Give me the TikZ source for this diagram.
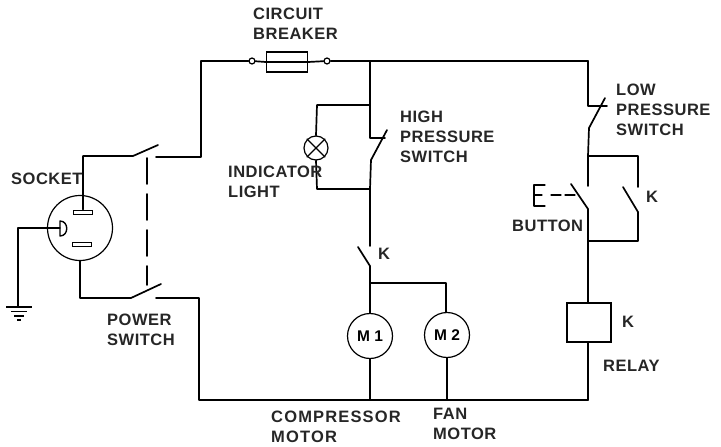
\documentclass[tikz,border=0pt]{standalone}
\usepackage{fontspec}
\setmainfont{Liberation Sans}
\tikzset{
 wire/.style={line width=1.7pt,line cap=round,line join=round},
 thin wire/.style={line width=1.3pt,line cap=round,line join=round},
 lbl/.style={inner sep=0pt,font=\fontsize{16.5}{19.7}\selectfont\bfseries\addfontfeatures{LetterSpace=3},align=left,anchor=north west,text=black!85},
 round part/.style={circle,draw,line width=1.2pt,inner sep=0pt,fill=white},
 term/.style={circle,draw,line width=1.2pt,minimum size=6pt,inner sep=0pt},
}
\begin{document}
\begin{tikzpicture}[x=1pt,y=-1pt]
\useasboundingbox (0,0) rectangle (721,447);
% named parts
\node[round part,minimum size=65pt] (sock) at (80,228) {};
\node[round part,minimum size=24pt] (lamp) at (316,148) {};
\node[round part,minimum size=45pt,font=\fontsize{15.5}{16}\selectfont\bfseries] (m1) at (370,336) {M 1};
\node[round part,minimum size=45pt,font=\fontsize{15.5}{16}\selectfont\bfseries] (m2) at (447,335) {M 2};
\node[draw,line width=1.7pt,minimum width=44pt,minimum height=39pt,inner sep=0pt] (relay) at (589,322.5) {};
\node[term] (t1) at (252,61) {};
\node[term] (t2) at (327,61) {};
\node[draw,line width=1.2pt,minimum width=41pt,minimum height=20pt,inner sep=0pt] (fuse) at (287,62) {};
\node[draw,fill=white,line width=1pt,minimum width=19pt,minimum height=4pt,inner sep=0pt] (pt) at (83,212) {};
\node[draw,fill=white,line width=1pt,minimum width=19pt,minimum height=4pt,inner sep=0pt] (pb) at (82,244) {};
% junctions
\coordinate (tl) at (201,61);
\coordinate (tj) at (370,61);
\coordinate (tr) at (588,61);
\coordinate (bl) at (199,400);
\coordinate (br) at (588,400);
\coordinate (m1b) at (370,400);
\coordinate (m2b) at (447,400);
% left side
\coordinate (a1) at (83,156);
\coordinate (a2) at (133,156);
\coordinate (a3) at (158,145);
\coordinate (a4) at (156,157);
\coordinate (a5) at (201,157);
\coordinate (b1) at (80,298);
\coordinate (b2) at (131,298);
\coordinate (b3) at (161,284);
\coordinate (b4) at (156,298);
\coordinate (b5) at (199,298);
\draw[wire] (pt.north -| a1) -- (a1) -- (a2) -- (a3);
\draw[wire] (a4) -- (a5) -- (tl) -- (t1);
\draw[wire] (sock.south -| b1) -- (b1) -- (b2) -- (b3);
\draw[wire] (b4) -- (b5) -- (bl) -- (br);
\draw[wire,dash pattern=on 26pt off 10pt] (147,158) -- (147,285);
% top
\draw[wire] (t1) -- (fuse.west) -- (fuse.east) -- (t2) -- (tj) -- (tr);
% ground
\coordinate (g1) at (18,228);
\coordinate (g2) at (18,306);
\coordinate (plug) at (60,228);
\draw[thin wire] (sock.west) -- (plug);
\draw[thin wire] (sock.west) -- (g1) -- (g2);
\draw[line width=1.4pt,line join=round] (60,221) -- (60,236) .. controls (69,236) and (69,221) .. (60,221) -- cycle;
\draw[line width=1.4pt] (6,307) -- (32,307) (11,311.5) -- (27,311.5) (14,316) -- (24,316) (17,320) -- (21,320);
% high pressure branch
\coordinate (h1) at (370,138);
\coordinate (h2) at (385,138);
\coordinate (h3) at (387,130);
\coordinate (h4) at (371,160);
\coordinate (h5) at (370,189);
\coordinate (h6) at (370,246);
\coordinate (il1) at (317,105);
\coordinate (il2) at (370,105);
\coordinate (il3) at (317,189);
\draw[wire] (tj) -- (h1) -- (h2);
\draw[wire] (h3) -- (h4) -- (h5) -- (h6);
\draw[wire] (il2) -- (il1) -- (lamp.north);
\draw[wire] (lamp.south) -- (il3) -- (h5);
\draw[thin wire] (lamp.north west) -- (lamp.south east) (lamp.north east) -- (lamp.south west);
% motors
\coordinate (k1) at (358,247);
\coordinate (k2) at (370,266);
\coordinate (mj) at (370,283);
\coordinate (mj2) at (446,283);
\draw[wire] (k1) -- (k2) -- (m1.north);
\draw[wire] (mj) -- (mj2) -- (mj2 |- m2.north);
\draw[wire] (m1.south) -- (m1b);
\draw[wire] (m2.south) -- (m2b);
% right side
\coordinate (l1) at (588,106);
\coordinate (l2) at (607,106);
\coordinate (l3) at (605,98);
\coordinate (l4) at (589,128);
\coordinate (c1) at (588,156);
\coordinate (c2) at (588,186);
\coordinate (c3) at (638,156);
\coordinate (c4) at (638,187);
\coordinate (c5) at (623,187);
\coordinate (c6) at (638,212);
\coordinate (c7) at (638,241);
\coordinate (c8) at (588,241);
\coordinate (c9) at (571,184);
\coordinate (c10) at (588,209);
\draw[wire] (tr) -- (l1) -- (l2);
\draw[wire] (l3) -- (l4) -- (c1) -- (c2);
\draw[wire] (c1) -- (c3) -- (c4);
\draw[wire] (c5) -- (c6) -- (c7) -- (c8);
\draw[wire] (c9) -- (c10) -- (relay.north -| c10);
\draw[wire] (relay.south -| br) -- (br);
% button
\draw[thin wire] (545,185) -- (534,185) -- (534,206) -- (545,206) (534,195) -- (542,195);
\draw[thin wire,dash pattern=on 10pt off 4pt] (551,195) -- (577,195);
% labels
\node[lbl] (t1a) at (253,8) {CIRCUIT\\BREAKER};
\node[lbl] (t2a) at (400,111) {HIGH\\PRESSURE\\SWITCH};
\node[lbl] (t3a) at (228,166) {INDICATOR\\LIGHT};
\node[lbl] (t4a) at (616,84) {LOW\\PRESSURE\\SWITCH};
\node[lbl] (t5a) at (11,173) {SOCKET};
\node[lbl] (t6a) at (107,314) {POWER\\SWITCH};
\node[lbl] (t7a) at (512,220) {BUTTON};
\node[lbl] (t8a) at (603,360) {RELAY};
\node[lbl,font=\fontsize{16.5}{19.7}\selectfont\bfseries\addfontfeatures{LetterSpace=7}] (t9a) at (271,411) {COMPRESSOR\\MOTOR};
\node[lbl] (t10a) at (433,408) {FAN\\MOTOR};
\node[lbl] (k1a) at (378,248) {K};
\node[lbl] (k2a) at (646,191) {K};
\node[lbl] (k3a) at (622,316) {K};
\end{tikzpicture}
\end{document}
